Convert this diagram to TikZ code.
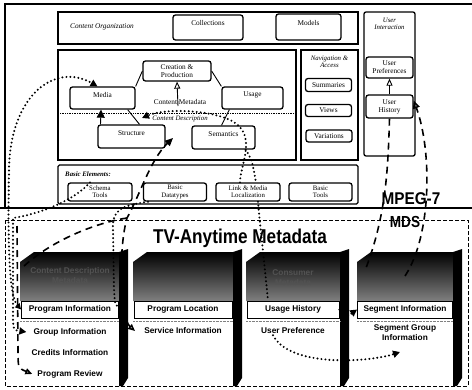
\documentclass[tikz,border=0pt]{standalone}
\usepackage{fontspec}
\setmainfont{Liberation Serif}
\newfontfamily\sansf{Liberation Sans}
\usetikzlibrary{arrows.meta,calc}
\begin{document}
\begin{tikzpicture}[x=1pt,y=-1pt,
  every node/.style={inner sep=1pt},
  frame/.style={draw,line width=1.3pt},
  mbox/.style={draw,line width=1.3pt,rounded corners=2.5pt,fill=white,align=center,font=\fontsize{7.3}{7.8}\selectfont},
  sbox/.style={mbox,font=\fontsize{6.8}{7.2}\selectfont},
  lab/.style={font=\fontsize{6.8}{7.5}\selectfont\itshape,align=center},
  tlab/.style={font=\fontsize{7.3}{8}\selectfont,align=center},
  band/.style={draw,line width=0.7pt,fill=white,minimum height=17,font=\sansf\bfseries\fontsize{8.3}{9}\selectfont},
  item/.style={font=\sansf\bfseries\fontsize{8.3}{10}\selectfont,align=center},
  dark/.style={font=\sansf\bfseries\fontsize{8.3}{10}\selectfont,align=center,text=black!68},
  dotline/.style={line width=2.2pt,dash pattern=on 0pt off 4pt,line cap=round},
  dashline/.style={line width=1.6pt,dash pattern=on 7pt off 5pt},
  hexline/.style={line width=0.9pt},
  ftip/.style={-{Triangle[length=7pt,width=7pt]}},
  otip/.style={-{Triangle[open,length=7pt,width=6pt]}}
]
\useasboundingbox (0,0) rectangle (472,389);

% ---------- MPEG-7 MDS part ----------
\draw[line width=1.6pt] (5,208) -- (5,4) -- (472,4);
\draw[line width=2.2pt] (0,208) -- (472,208);

\node[frame,minimum width=300,minimum height=32] (org) at (208,28) {};
\node[lab,font=\fontsize{7.3}{8}\selectfont\itshape] (orgl) at (102,27) {Content Organization};
\node[mbox,minimum width=70,minimum height=25,text depth=9pt] (coll) at (208,27.5) {Collections};
\node[mbox,minimum width=65,minimum height=26,text depth=9pt] (models) at (308.5,27) {Models};

\node[frame,rounded corners=2pt,minimum width=51,minimum height=144] (ui) at (389.5,84) {};
\node[lab] (uil) at (389.5,24) {User\\Interaction};
\node[mbox,minimum width=47,minimum height=21] (upref) at (389.5,67.5) {User\\Preferences};
\node[mbox,minimum width=47,minimum height=23] (uhist) at (389.5,106.5) {User\\History};

\node[frame,minimum width=238,minimum height=110] (desc) at (177,105) {};
\node[frame,minimum width=57,minimum height=110] (nav) at (329.5,105) {};
\node[lab] (navl) at (329.5,62) {Navigation \&\\Access};
\node[mbox,minimum width=46,minimum height=13] (sum) at (328.5,85) {Summaries};
\node[mbox,minimum width=46,minimum height=12] (views) at (328.5,110.5) {Views};
\node[mbox,minimum width=46,minimum height=12] (var) at (329,136) {Variations};

\draw[densely dotted,line width=0.7pt] (60,113) -- (295,113);

\node[mbox,minimum width=68,minimum height=20] (crea) at (177,71) {Creation \&\\Production};
\node[mbox,minimum width=65,minimum height=22,text depth=7pt] (media) at (102.5,98) {Media};
\node[mbox,minimum width=61,minimum height=22,text depth=7pt] (usage) at (252.5,98) {Usage};
\node[mbox,minimum width=67,minimum height=23,text depth=6pt] (struct) at (131.5,136.5) {Structure};
\node[mbox,minimum width=63,minimum height=23,text depth=6pt] (sem) at (223.5,137.5) {Semantics};
\draw[hexline] (crea.west) -- (media.north east);
\draw[hexline] (crea.east) -- (usage.north west);
\draw[hexline] ([xshift=-8]media.south east) -- ([xshift=8]struct.north);
\draw[hexline] ([xshift=8]usage.south west) -- ([xshift=-2]sem.north);
\node[tlab] (cmeta) at (180,102) {Content Metadata};
\node[lab] (cdesc) at (180,119) {Content Description};

\node[frame,rounded corners=1.5pt,minimum width=300,minimum height=39] (basic) at (208,184.5) {};
\node[font=\bfseries\itshape\fontsize{6.8}{7}\selectfont] (basl) at (88,174) {Basic Elements:};
\node[sbox,minimum width=64,minimum height=18] (schema) at (100,192) {Schema\\Tools};
\node[sbox,minimum width=63,minimum height=18] (bdt) at (175,192) {Basic\\Datatypes};
\node[sbox,minimum width=64,minimum height=18] (link) at (248,192) {Link \& Media\\Localization};
\node[sbox,minimum width=63,minimum height=18] (btools) at (320.5,192) {Basic\\Tools};

% ---------- TV-Anytime part ----------
\draw[line width=0.6pt,dash pattern=on 4pt off 2pt] (5,220) rectangle (468,386);
\node[font=\sansf\bfseries\fontsize{17}{18}\selectfont,inner sep=0pt] (mpeg) at (411,199) {\scalebox{0.9}[1]{MPEG-7}};
\node[font=\sansf\bfseries\fontsize{16}{17}\selectfont,inner sep=0pt] (mds) at (405,222) {\scalebox{0.85}[1]{MDS}};
\node[font=\sansf\bfseries\fontsize{20}{22}\selectfont] (tva) at (240,238) {\scalebox{0.86}[1]{TV-Anytime Metadata}};

\foreach \a/\b in {20/119,133/233,246/340,357/453} {
  \shade[top color=black,bottom color=black!50] (\a,262) -- (\a+14,252) -- (\b,252) -- (\b,301) -- (\a,301) -- cycle;
  \fill (\b,252) -- (\b+9,249) -- (\b+9,378) -- (\b+4,386) -- (\b,386) -- cycle;
  \draw[gray,densely dotted] (\a,321) -- (\b,321);
}
\node[dark] (cdm) at (70,276) {Content Description\\Metadata};
\node[dark] (cm) at (293,278) {Consumer\\Metadata};

\node[band,minimum width=97] (pi) at (70,309.5) {Program Information};
\node[item] (gi) at (70,332) {Group Information};
\node[item] (ci) at (70,353) {Credits Information};
\node[item] (pr) at (70,374) {Program Review};
\node[band,minimum width=98] (pl) at (183,309.5) {Program Location};
\node[item] (si) at (183,331) {Service Information};
\node[band,minimum width=92] (uh) at (293,309.5) {Usage History};
\node[item] (up) at (293,331) {User Preference};
\node[band,minimum width=95] (seg) at (405,309.5) {Segment Information};
\node[item] (sgi) at (405,333) {Segment Group\\Information};

% ---------- connectors ----------
\coordinate (c1) at (24,266);
\coordinate (c2) at (127,218);
\coordinate (gap) at (173,138);
\coordinate (c3) at (366,268);
\coordinate (c4) at (405,276);
\coordinate (c5) at (400,352);
\coordinate (c6) at (17,226);
\coordinate (c7) at (142,118);
\coordinate (c8) at (178,106);

\draw[dotline,{Triangle[length=6pt,width=6pt]}-{Triangle[length=7pt,width=7pt]}] (pi.west) .. controls (8,295) and (8,230) .. (9,170) .. controls (10,95) and (55,62) .. ([xshift=-5]media.north);
\draw[dashline] (c1) .. controls (55,238) and (100,222) .. (c2);
\draw[dashline,{Triangle[open,length=7pt,width=6pt]}-{Triangle[length=8pt,width=7pt]}] ([xshift=-8]si.west) .. controls (120,318) and (118,250) .. (c2) .. controls (140,195) and (150,160) .. (gap);
\draw[dotline,ftip] ([xshift=-10]schema.north) .. controls (75,200) and (40,214) .. (13,218) -- (13,312) .. controls (13,330) .. ([xshift=-6]gi.west);
\draw[dashline,otip] (c6) -- (18,350) .. controls (18,368) .. ([xshift=-4]pr.west);
\draw[dotline,ftip] ([xshift=-27]bdt.south) .. controls (120,206) and (112,210) .. (113,230) -- (114,290) .. controls (115,306) .. ([xshift=-6]pl.west);
\draw[line width=0.9pt,-{Triangle[length=8pt,width=8pt]}] ([xshift=-31]struct.north) -- ([xshift=-1.5]media.south);
\draw[dotline,ftip] ([xshift=-8]link.north) .. controls (240,165) and (258,135) .. (232,121) .. controls (212,110) and (165,108) .. (c7);
\draw[dotline] ([xshift=-10]sem.south east) .. controls (252,160) .. ([xshift=8]link.north);
\draw[dotline] ([xshift=10]link.south) .. controls (260,225) and (262,240) .. ([xshift=-25]uh.north);
\draw[dotline,ftip] ([xshift=-20]up.south) .. controls (290,368) and (370,362) .. (c5);
\draw[dotline,ftip] (uh.east) .. controls (345,318) .. (seg.west);
\draw[dashline] (uhist.south) .. controls (388,170) and (386,215) .. (c3);
\draw[dashline,-{Triangle[open,length=8pt,width=7pt]}] (c4) .. controls (432,235) and (432,150) .. ([yshift=6]uhist.east);
\draw[line width=0.9pt,otip] (uhist.north) -- (upref.south);
\draw[line width=0.9pt,otip] (c8) -- (crea.south);
\end{tikzpicture}
\end{document}
